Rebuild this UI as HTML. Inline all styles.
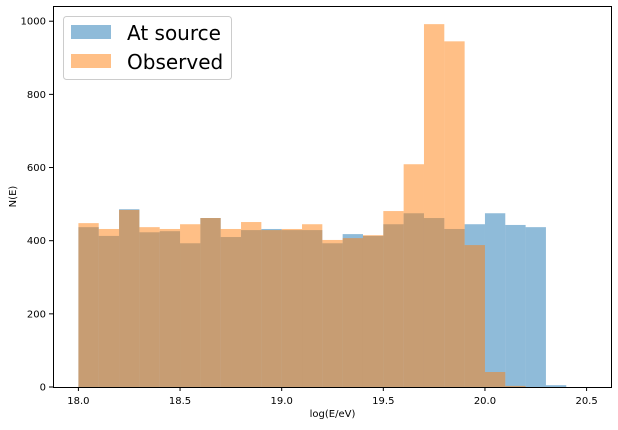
<!DOCTYPE html>
<html><head><meta charset="utf-8"><style>
body{margin:0;background:#fff;font-family:"Liberation Sans","DejaVu Sans",sans-serif}
svg text{font-family:"DejaVu Sans","Liberation Sans",sans-serif}
</style></head><body>
<svg id="chart" width="618" height="425" xmlns="http://www.w3.org/2000/svg">
<rect width="618" height="425" fill="#fff"/>
<g id="bars"></g>
<g id="axes"></g>
<g>
<rect x="63.5" y="16.5" width="168" height="63" rx="3" fill="#fff" fill-opacity="0.8" stroke="#ccc"/>
<rect x="71" y="25" width="40" height="14" fill="#1f77b4" fill-opacity="0.5"/>
<text x="127" y="40" font-size="20" fill="#000">At source</text>
<rect x="71" y="54" width="40" height="14" fill="#ff7f0e" fill-opacity="0.5"/>
<text x="127" y="69" font-size="20" fill="#000">Observed</text>
</g>
</svg>
<script>
const binStarts=[18.0,18.1,18.2,18.3,18.4,18.5,18.6,18.7,18.8,18.9,19.0,19.1,19.2,19.3,19.4,19.5,19.6,19.7,19.8,19.9,20.0,20.1,20.2,20.3,20.4];
const atSource=[437,413,486,423,426,393,462,410,429,432,429,429,393,418,413,445,475,462,432,445,475,443,437,5,0];
const observed=[448,432,484,437,432,445,462,432,451,429,432,445,402,407,415,481,609,992,945,388,41,3,0,0,0];
const xTicks=[18.0,18.5,19.0,19.5,20.0,20.5];
const yTicks=[0,200,400,600,800,1000];
const binWidth=0.1;
const L=53,R=612,T=6,B=387;
const xmin=17.875,xmax=20.625,ymax=1041.6;
const X=v=>L+(v-xmin)/(xmax-xmin)*(R-L);
const Y=v=>B-v/ymax*(B-T);
const NS="http://www.w3.org/2000/svg";
const bars=document.getElementById('bars');
function drawSeries(vals,color,name){
  vals.forEach((v,i)=>{
    if(v<=0)return;
    const r=document.createElementNS(NS,'rect');
    r.setAttribute('x',X(binStarts[i]));
    r.setAttribute('width',X(binStarts[i]+binWidth)-X(binStarts[i]));
    r.setAttribute('y',Y(v));
    r.setAttribute('height',B-Y(v));
    r.setAttribute('fill',color);
    r.setAttribute('fill-opacity','0.5');
    
    
    bars.appendChild(r);
  });
}
drawSeries(atSource,'#1f77b4','at-source');
drawSeries(observed,'#ff7f0e','observed');
const ax=document.getElementById('axes');
function mk(tag,attrs,text){const e=document.createElementNS(NS,tag);for(const k in attrs)e.setAttribute(k,attrs[k]);if(text!==undefined)e.textContent=text;ax.appendChild(e);return e;}
const frame=mk('rect',{x:L+0.5,y:T+0.5,width:R-L-1,height:B-T,fill:'none',stroke:'#000','stroke-width':1});


xTicks.forEach(t=>{
  const x=X(t);
  const l=mk('line',{x1:x,x2:x,y1:B,y2:B+4,stroke:'#000'});
  
  
  const tx=mk('text',{x:x,y:B+17,'font-size':10,'text-anchor':'middle',fill:'#000'},t.toFixed(1));
  
  
});
yTicks.forEach(t=>{
  const y=Y(t);
  const l=mk('line',{x1:L-4,x2:L,y1:y,y2:y,stroke:'#000'});
  
  
  const tx=mk('text',{x:L-7,y:y+3.5,'font-size':10,'text-anchor':'end',fill:'#000'},String(t));
  
  
});
const xt=mk('text',{x:(L+R)/2,y:417,'font-size':10,'text-anchor':'middle',fill:'#000'},'log(E/eV)');


const yt=mk('text',{x:16,y:(T+B)/2,'font-size':10,'text-anchor':'middle',fill:'#000',transform:'rotate(-90 16 '+((T+B)/2)+')'},'N(E)');


</script>
</body></html>
